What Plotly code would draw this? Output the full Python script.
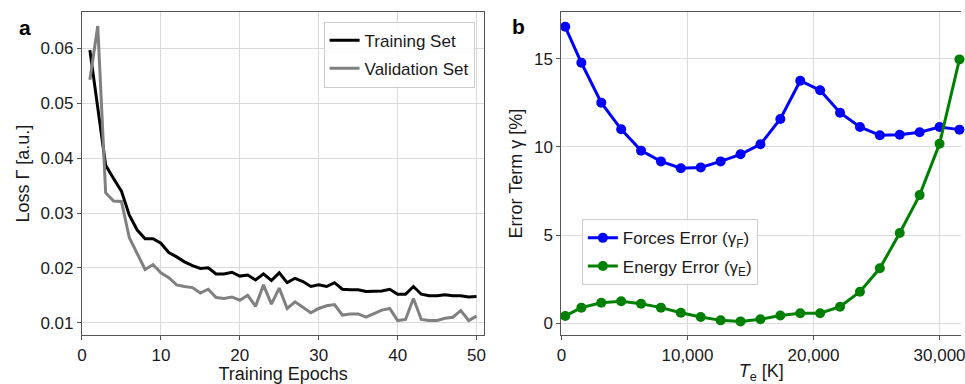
import plotly.graph_objects as go

# ---------------- data ----------------
epochs = list(range(1, 51))
train_loss = [0.0597, 0.0495, 0.0387, 0.0363, 0.0340, 0.0296, 0.0269, 0.0253, 0.0253, 0.0245,
              0.0228, 0.0220, 0.0211, 0.0204, 0.0199, 0.0200, 0.0189, 0.0189, 0.0192, 0.0185,
              0.0187, 0.0178, 0.0189, 0.0177, 0.0191, 0.0173, 0.0181, 0.0175, 0.0166, 0.0169,
              0.0166, 0.0173, 0.0161, 0.0160, 0.0160, 0.0157, 0.0158, 0.0158, 0.0161, 0.0152,
              0.0152, 0.0166, 0.0152, 0.0149, 0.0149, 0.0151, 0.0149, 0.0149, 0.0147, 0.0148]
val_loss = [0.0543, 0.0641, 0.0337, 0.0322, 0.0321, 0.0255, 0.0226, 0.0197, 0.0206, 0.0191,
            0.0182, 0.0169, 0.0166, 0.0164, 0.0154, 0.0161, 0.0146, 0.0144, 0.0147, 0.0141,
            0.0150, 0.0130, 0.0169, 0.0134, 0.0163, 0.0126, 0.0138, 0.0128, 0.0118, 0.0126,
            0.0131, 0.0133, 0.0114, 0.0116, 0.0116, 0.0110, 0.0116, 0.0123, 0.0126, 0.0104,
            0.0106, 0.0144, 0.0106, 0.0104, 0.0104, 0.0108, 0.0110, 0.0122, 0.0104, 0.0112]

temps = [300, 1579, 3158, 4737, 6315, 7894, 9473, 11052, 12631, 14210, 15789,
         17368, 18946, 20525, 22104, 23683, 25262, 26841, 28420, 29999, 31577]
forces_err = [16.81, 14.77, 12.51, 11.00, 9.79, 9.18, 8.79, 8.84, 9.18, 9.58, 10.15,
              11.58, 13.75, 13.21, 11.94, 11.13, 10.66, 10.69, 10.83, 11.13, 10.98]
energy_err = [0.42, 0.89, 1.17, 1.25, 1.11, 0.89, 0.60, 0.36, 0.17, 0.11, 0.23,
              0.45, 0.57, 0.57, 0.94, 1.79, 3.12, 5.12, 7.27, 10.18, 14.96]

loss_ticks = [0.01, 0.02, 0.03, 0.04, 0.05, 0.06]
epoch_ticks = [0, 10, 20, 30, 40, 50]
temp_ticks = [0, 10000, 20000, 30000]
err_ticks = [0, 5, 10, 15]

# ---------------- figure ----------------
W, H = 965, 384
FONT = "Liberation Sans"
TXT = "#1a1a1a"
SPINE = "#555555"
GRID = "#d9d9d9"

fig = go.Figure()

fig.add_trace(go.Scatter(x=epochs, y=train_loss, mode="lines", name="Training Set",
                         line=dict(color="black", width=3), xaxis="x", yaxis="y",
                         legend="legend", legendgroup="t"))
fig.add_trace(go.Scatter(x=epochs, y=val_loss, mode="lines", name="Validation Set",
                         line=dict(color="#808080", width=3), xaxis="x", yaxis="y",
                         legend="legend", legendgroup="v"))

fig.add_trace(go.Scatter(x=temps, y=forces_err, mode="lines+markers",
                         name="Forces Error (γ<sub>F</sub>)",
                         line=dict(color="#0000ff", width=3),
                         marker=dict(size=10, color="#0000ff"),
                         xaxis="x2", yaxis="y2", legend="legend2", legendgroup="f",
                         cliponaxis=False))
fig.add_trace(go.Scatter(x=temps, y=energy_err, mode="lines+markers",
                         name="Energy Error (γ<sub>E</sub>)",
                         line=dict(color="#008000", width=3),
                         marker=dict(size=10, color="#008000"),
                         xaxis="x2", yaxis="y2", legend="legend2", legendgroup="e",
                         cliponaxis=False))

ydom = [(H - 335) / H, (H - 12.3) / H]

common_axis = dict(
    showline=True, linecolor=SPINE, linewidth=1.2,
    ticks="outside", ticklen=4, tickwidth=1, tickcolor=SPINE,
    showgrid=True, gridcolor=GRID, gridwidth=1, zeroline=False,
    tickfont=dict(family=FONT, size=17, color=TXT),
    ticklabeloverflow="allow",
)

fig.update_layout(
    width=W, height=H,
    margin=dict(l=0, r=0, t=0, b=0),
    paper_bgcolor="white", plot_bgcolor="white",
    font=dict(family=FONT, size=17, color=TXT),
    xaxis=dict(common_axis, domain=[77.7 / W, 483.7 / W], range=[0, 50.97],
               tickvals=epoch_ticks, mirror=True, anchor="y",
               title=dict(text="Training Epochs", standoff=4,
                          font=dict(family=FONT, size=18, color=TXT))),
    yaxis=dict(common_axis, domain=ydom, range=[0.00776, 0.0666],
               tickvals=loss_ticks, tickformat=".2f", mirror=True, anchor="x",
               title=dict(text="Loss Γ [a.u.]", standoff=6,
                          font=dict(family=FONT, size=18, color=TXT))),
    xaxis2=dict(common_axis, domain=[561.7 / W, 1.0], range=[0, 31701],
                tickvals=temp_ticks, tickformat=",", mirror=True, anchor="y2",
                title=dict(text="<i>T</i><sub>e</sub> [K]", standoff=4,
                           font=dict(family=FONT, size=18, color=TXT))),
    yaxis2=dict(common_axis, domain=ydom, range=[-0.66, 17.63],
                tickvals=err_ticks, mirror=False, anchor="x2",
                title=dict(text="Error Term γ [%]", standoff=6,
                           font=dict(family=FONT, size=18, color=TXT))),
    legend=dict(x=474 / W, xanchor="right", y=(H - 21.7) / H, yanchor="top",
                bgcolor="rgba(255,255,255,0.85)", bordercolor="#cccccc", borderwidth=1,
                font=dict(family=FONT, size=17, color=TXT), tracegroupgap=3),
    legend2=dict(x=582.3 / W, xanchor="left", y=(H - 219.3) / H, yanchor="top",
                 bgcolor="rgba(255,255,255,0.85)", bordercolor="#cccccc", borderwidth=1,
                 font=dict(family=FONT, size=17, color=TXT), tracegroupgap=3),
    showlegend=True,
)

fig.add_annotation(text="<b>a</b>", x=20 / W, y=(H - 27) / H, xref="paper", yref="paper",
                   showarrow=False, font=dict(family=FONT, size=21, color="black"),
                   xanchor="center", yanchor="middle")
fig.add_annotation(text="<b>b</b>", x=518.5 / W, y=(H - 26) / H, xref="paper", yref="paper",
                   showarrow=False, font=dict(family=FONT, size=21, color="black"),
                   xanchor="center", yanchor="middle")

fig.write_html("out.html")
